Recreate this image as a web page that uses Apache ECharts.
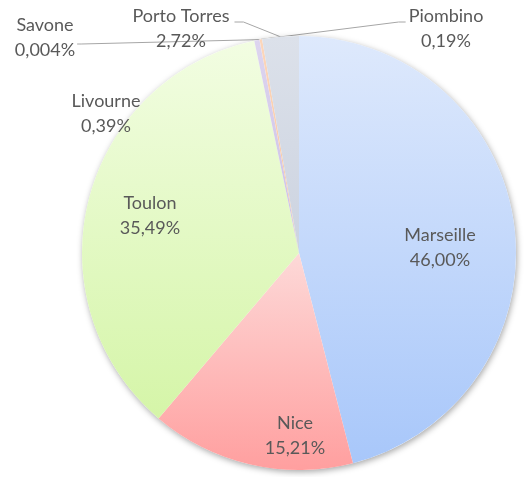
<!DOCTYPE html>
<html>
<head>
<meta charset="utf-8">
<script src="https://cdn.jsdelivr.net/npm/echarts@6/dist/echarts.min.js"></script>
<style>
  html, body { margin: 0; padding: 0; background: #fff; }
  #chart { width: 524px; height: 477px; }
</style>
</head>
<body>
<div id="chart"></div>
<script>
// ports and their share (%)
const ports = ['Marseille', 'Nice', 'Toulon', 'Livourne', 'Savone', 'Piombino', 'Porto Torres'];
const shares = [46.00, 15.21, 35.49, 0.39, 0.004, 0.19, 2.72];

// gradient top / bottom per slice
const topColors = ['#dee9fc', '#fdd9d8', '#f2fde2', '#ddd5ef', '#d4eef3', '#fcd6bb', '#dce1ea'];
const bottomColors = ['#a8c7fa', '#ff9f9f', '#d5f5a8', '#cbbfe6', '#b7e3ea', '#f8c59f', '#ccd3e0'];

// label centres in px
const labelPos = {
  'Marseille': [440, 248],
  'Nice': [295, 436],
  'Toulon': [150, 216],
  'Livourne': [106, 114],
  'Savone': [45, 38],
  'Piombino': [446, 29],
  'Porto Torres': [181, 29]
};
const insideLabels = ['Marseille', 'Nice', 'Toulon'];
const withLine = ['Savone', 'Piombino', 'Porto Torres'];

const fmt = (v) => (v < 0.01 ? v.toFixed(3) : v.toFixed(2)).replace('.', ',') + '%';

const chart = echarts.init(document.getElementById('chart'));

const data = ports.map((name, i) => ({
  name: name,
  value: shares[i],
  itemStyle: {
    color: new echarts.graphic.LinearGradient(0, 0, 0, 1, [
      { offset: 0, color: topColors[i] },
      { offset: 1, color: bottomColors[i] }
    ])
  },
  label: { position: insideLabels.includes(name) ? 'inside' : 'outside' },
  labelLine: { show: withLine.includes(name) }
}));

// route the leader line from the slice edge to the side of the moved label
const leader = (name, anchor, w) => {
  const [cx, cy] = labelPos[name];
  const left = cx - w / 2;
  const right = cx + w / 2;
  if (name === 'Piombino') {
    return [anchor, [left - 10, cy - 7], [left - 3, cy - 7]];
  }
  if (name === 'Porto Torres') {
    return [anchor, [right + 14, cy - 7], [right + 5, cy - 7]];
  }
  return [anchor, [right + 6, cy + 6], [right + 2, cy + 6]];
};

chart.setOption({
  animation: false,
  series: [
    {
      // shadow behind the pie
      type: 'pie',
      silent: true,
      center: [299, 253],
      radius: 217,
      label: { show: false },
      labelLine: { show: false },
      itemStyle: {
        color: '#fff',
        shadowBlur: 6,
        shadowColor: 'rgba(0,0,0,0.35)',
        shadowOffsetX: 1,
        shadowOffsetY: 2
      },
      data: [{ value: 1, name: '' }]
    },
    {
      type: 'pie',
      center: [299, 253],
      radius: 217,
      startAngle: 90,
      clockwise: true,
      avoidLabelOverlap: false,
      itemStyle: { borderWidth: 0 },
      label: {
        show: true,
        formatter: (p) => p.name + '\n' + fmt(p.value),
        fontFamily: 'Lato',
        fontSize: 18,
        lineHeight: 25,
        color: '#595959',
        align: 'center'
      },
      labelLine: {
        length: 10,
        length2: 10,
        lineStyle: { color: '#a6a6a6', width: 1 }
      },
      labelLayout: (params) => {
        const name = ports[params.dataIndex];
        const pos = labelPos[name];
        const out = { x: pos[0], y: pos[1], align: 'center', verticalAlign: 'middle' };
        if (withLine.includes(name) && params.labelLinePoints) {
          out.labelLinePoints = leader(name, params.labelLinePoints[0], params.labelRect.width);
        }
        return out;
      },
      data: data
    }
  ]
});
</script>
</body>
</html>
